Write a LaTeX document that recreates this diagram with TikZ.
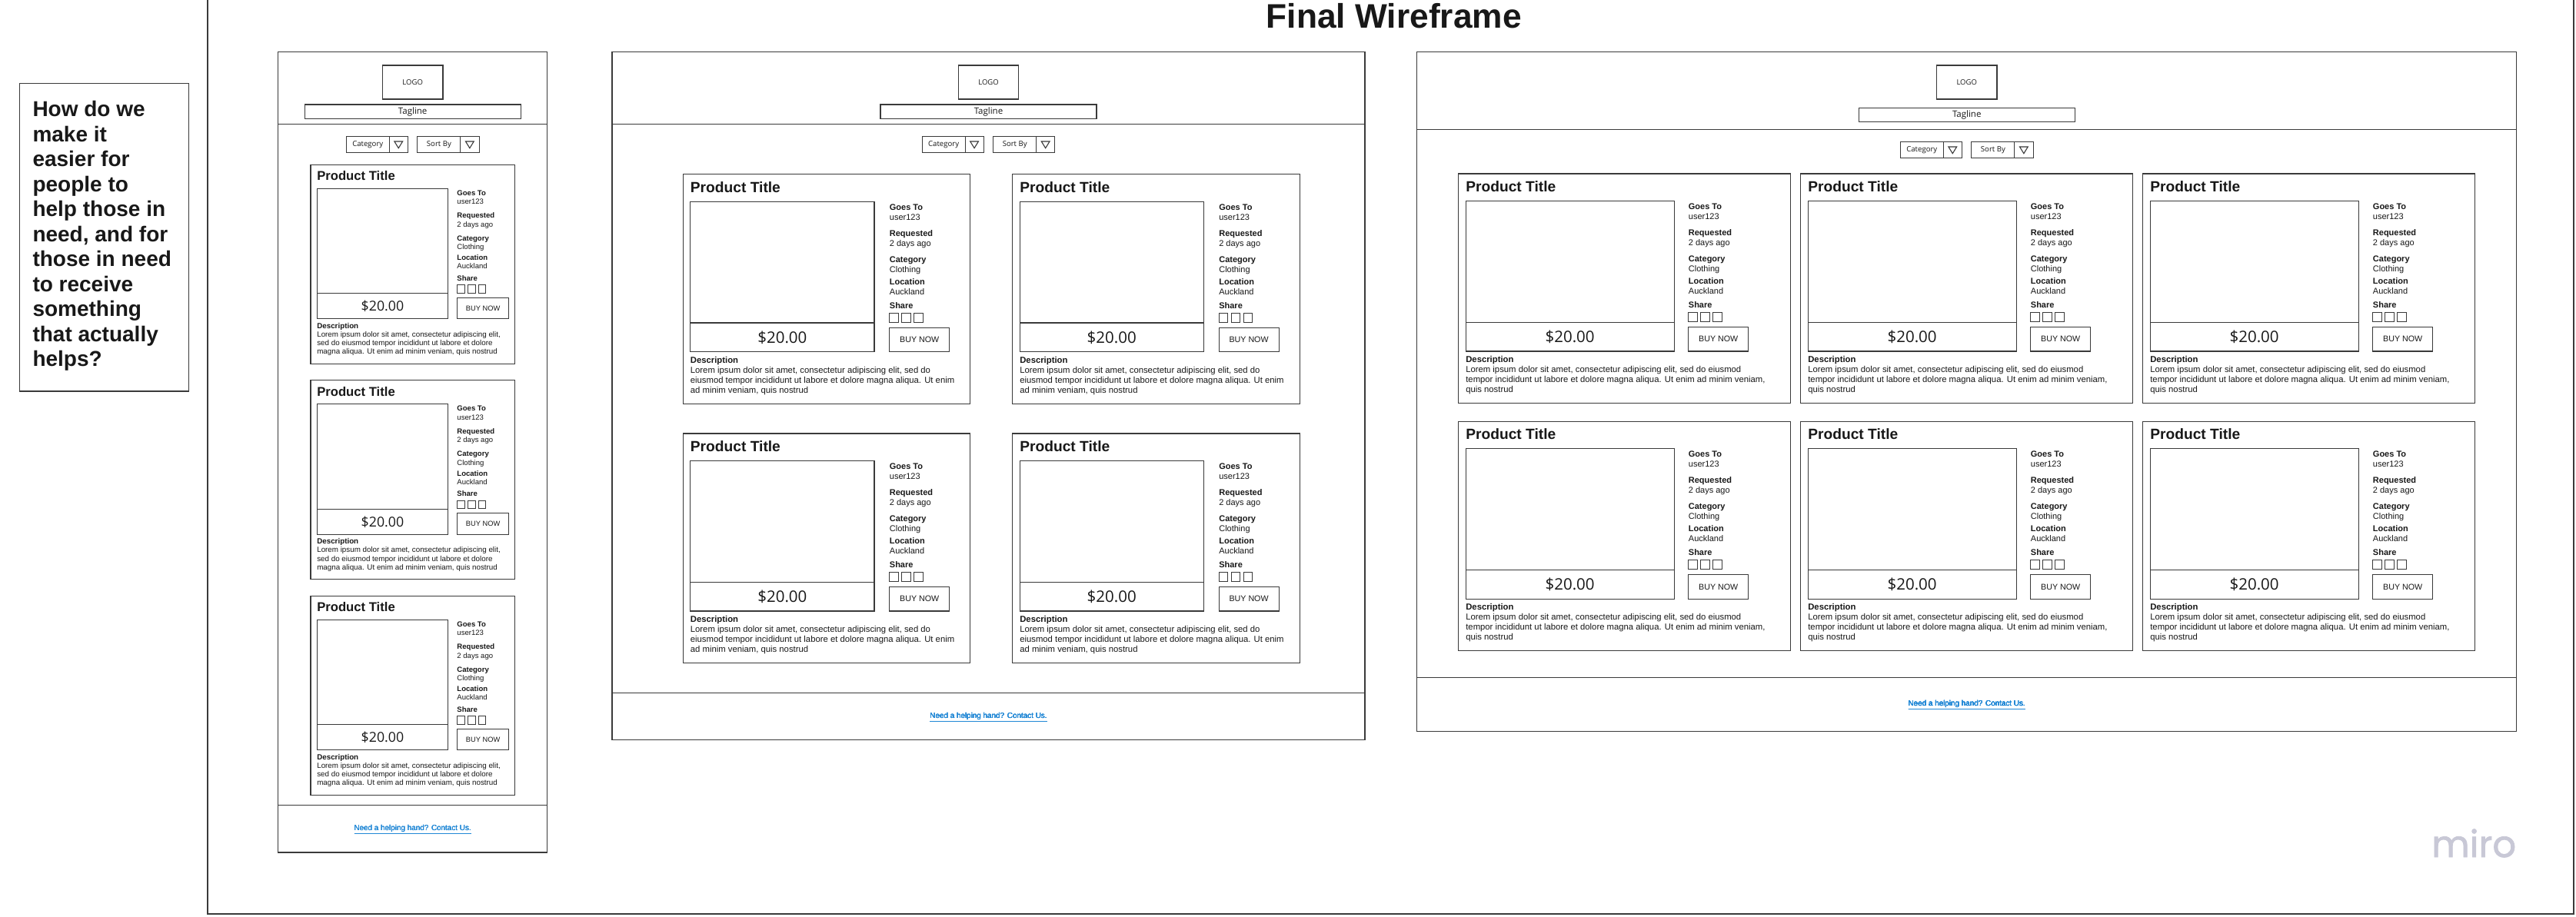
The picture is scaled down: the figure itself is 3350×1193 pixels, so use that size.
\documentclass[tikz,border=0pt]{standalone}
\usepackage{fontspec}
\setmainfont{Liberation Sans}
\newfontfamily\opensans{Open Sans}
\newfontfamily\mirofont[FakeBold=1.6]{Poppins}
\definecolor{linecol}{RGB}{58,58,58}
\definecolor{textcol}{RGB}{24,24,24}
\definecolor{linkcol}{RGB}{33,136,214}
\definecolor{mirocol}{RGB}{200,200,214}
\tikzset{
  wire/.style={draw=linecol, line width=1.1pt},
  pagebox/.style={draw=linecol, line width=1.3pt},
  txt/.style={inner sep=0pt, text=textcol},
  ptitle/.style={txt, anchor=base west, font=\fontsize{19.2}{22}\selectfont\bfseries},
  flabel/.style={txt, anchor=base west, font=\fontsize{11}{13}\selectfont\bfseries},
  fvalue/.style={txt, anchor=base west, font=\fontsize{11}{13}\selectfont},
  dlabel/.style={txt, anchor=base west, font=\fontsize{11.3}{13}\selectfont\bfseries},
  lorem/.style={txt, anchor=base west, font=\fontsize{11.3}{13}\selectfont},
  price/.style={txt, font=\opensans\fontsize{20.5}{24}\selectfont},
  btntext/.style={txt, font=\fontsize{10.7}{12}\selectfont},
  logotext/.style={txt, font=\opensans\fontsize{9.5}{11}\selectfont},
  tagtext/.style={txt, font=\opensans\fontsize{11.5}{13}\selectfont},
  droptext/.style={txt, font=\opensans\fontsize{9.6}{11}\selectfont},
  linktext/.style={inner sep=0pt, text=linkcol, font=\fontsize{9.9}{11}\selectfont},
  question/.style={txt, anchor=base west, font=\fontsize{28}{32}\selectfont\bfseries},
}

% lines of the description text for each screen size
\def\mobdesc{{Lorem ipsum dolor sit amet, consectetur adipiscing elit,},{sed do eiusmod tempor incididunt ut labore et dolore},{magna aliqua. Ut enim ad minim veniam, quis nostrud}}
\def\tabdesc{{Lorem ipsum dolor sit amet, consectetur adipiscing elit, sed do},{eiusmod tempor incididunt ut labore et dolore magna aliqua. Ut enim},{ad minim veniam, quis nostrud}}
\def\deskdesc{{Lorem ipsum dolor sit amet, consectetur adipiscing elit, sed do eiusmod},{tempor incididunt ut labore et dolore magna aliqua. Ut enim ad minim veniam,},{quis nostrud}}

% #1 name, #2 left x, #3 top y, #4 text
\newcommand{\dropdown}[4]{%
  \draw[wire] (#2,#3) rectangle ++(80.2,21);
  \draw[wire] (#2+56,#3) -- ++(0,21);
  \draw[wire, line join=miter] (#2+62.6,#3+6.3) -- ++(10.7,0) -- ++(-5.35,8.7) -- cycle;
  \node[droptext] (#1) at (#2+28,#3+10.5) {#4};
}

% #1 name, #2 centre x, #3 tagline top, #4 dropdown top
\newcommand{\pagehead}[4]{%
  \draw[wire] (#2-39.3,85) rectangle (#2+39.3,129);
  \node[logotext] (#1-logo) at (#2,107) {LOGO};
  \draw[wire] (#2-140.5,#3) rectangle (#2+140.5,#3+18.5);
  \node[tagtext] (#1-tag) at (#2,#3+9.3) {Tagline};
  \dropdown{#1-cat}{#2-86.4}{#4}{Category}
  \dropdown{#1-sort}{#2+6.2}{#4}{Sort By}
}

% #1 name, #2 top left, #3 scale, #4 card width, #5 image width, #6 info column x, #7 description lines
\newcommand{\prodcard}[7]{%
  \begin{scope}[shift={#2}, scale=#3, transform shape]
    \draw[wire] (0,0) rectangle (#4,298.6);
    \node[ptitle] (#1-title) at (9.4,23.6) {Product Title};
    \draw[wire] (9.4,35.6) rectangle (9.4+#5,231);
    \draw[wire] (9.4,193.3) -- (9.4+#5,193.3);
    \node[price] (#1-price) at (9.4+#5/2,212.4) {\$20.00};
    \foreach \lab/\val/\yl [count=\k] in {Goes To/user123/46.3, Requested/2 days ago/80.3,
        Category/Clothing/114.3, Location/Auckland/143.3} {
      \node[flabel] (#1-lab\k) at (#6,\yl) {\lab};
      \node[fvalue] (#1-val\k) at (#6,\yl+13) {\val};
    }
    \node[flabel] (#1-share) at (#6,174.3) {Share};
    \foreach \k in {0,1,2}
      \draw[wire, line width=0.9pt] (#6+16*\k,180.6) rectangle ++(11.3,11.7);
    \draw[wire] (#6,199.6) rectangle (#6+78,231);
    \node[btntext] (#1-buy) at (#6+39,215.3) {BUY NOW};
    \node[dlabel] (#1-desc) at (9.4,245.5) {Description};
    \foreach \ln [count=\k] in #7
      \node[lorem] (#1-lorem\k) at (9.4,245.5+13*\k) {\ln};
  \end{scope}
}

\begin{document}
\begin{tikzpicture}[x=1pt, y=-1pt]
  \fill[white] (0,0) rectangle (3350,1193);
  \useasboundingbox (0,0) rectangle (3350,1193);

  % board and its title
  \draw[pagebox] (270,-5) -- (270,1189) -- (3347,1189) -- (3347,-5);
  \node[txt, anchor=base, font=\fontsize{44.3}{50}\selectfont\bfseries] (title) at (1812.7,36.7) {Final Wireframe};

  % question
  \draw[pagebox] (25.7,108.3) rectangle (245.3,509);
  \foreach \qline [count=\k] in {How do we, make it, easier for, people to, help those in,
      {need, and for}, those in need, to receive, something, that actually, helps?}
    \node[question] (q\k) at (42.3,151.7+32.5*\k-32.5) {\qline};

  % mobile
  \draw[pagebox] (361.7,67.3) rectangle (711.7,1109);
  \draw[wire] (361.7,161.7) -- (711.7,161.7);
  \draw[wire] (361.7,1047.7) -- (711.7,1047.7);
  \pagehead{mob}{536.7}{136}{177.7}
  \foreach \ry [count=\row] in {214.3, 494.8, 775.3}
    \prodcard{mob-\row}{(404,\ry)}{0.867}{306.5}{196.9}{219.5}{\mobdesc}
  \node[linktext] (mob-link) at (536.7,1079) {\underline{Need a helping hand? Contact Us.}};

  % tablet
  \draw[pagebox] (796,67.3) rectangle (1775,962.7);
  \draw[wire] (796,161.7) -- (1775,161.7);
  \draw[wire] (796,901.7) -- (1775,901.7);
  \pagehead{tab}{1285.5}{136}{177.7}
  \foreach \ry [count=\row] in {226.7, 564}
    \foreach \cx [count=\col] in {888.3, 1316.7}
      \prodcard{tab-\row-\col}{(\cx,\ry)}{1}{373.4}{239.3}{268.4}{\tabdesc}
  \node[linktext] (tab-link) at (1285.5,932.7) {\underline{Need a helping hand? Contact Us.}};

  % desktop
  \draw[pagebox] (1842.7,67.3) rectangle (3272.7,951.2);
  \draw[wire] (1842.7,168.7) -- (3272.7,168.7);
  \draw[wire] (1842.7,881.9) -- (3272.7,881.9);
  \pagehead{desk}{2557.7}{140.3}{184.7}
  \foreach \ry [count=\row] in {226, 548.3}
    \foreach \cx [count=\col] in {1896.7, 2341.7, 2786.7}
      \prodcard{desk-\row-\col}{(\cx,\ry)}{1}{432}{271}{299}{\deskdesc}
  \node[linktext] (desk-link) at (2557.7,917.4) {\underline{Need a helping hand? Contact Us.}};

  \node[anchor=base east, inner sep=0pt, text=mirocol, font=\mirofont\fontsize{48}{50}\selectfont] (miro) at (3272.3,1115) {miro};
\end{tikzpicture}
\end{document}
